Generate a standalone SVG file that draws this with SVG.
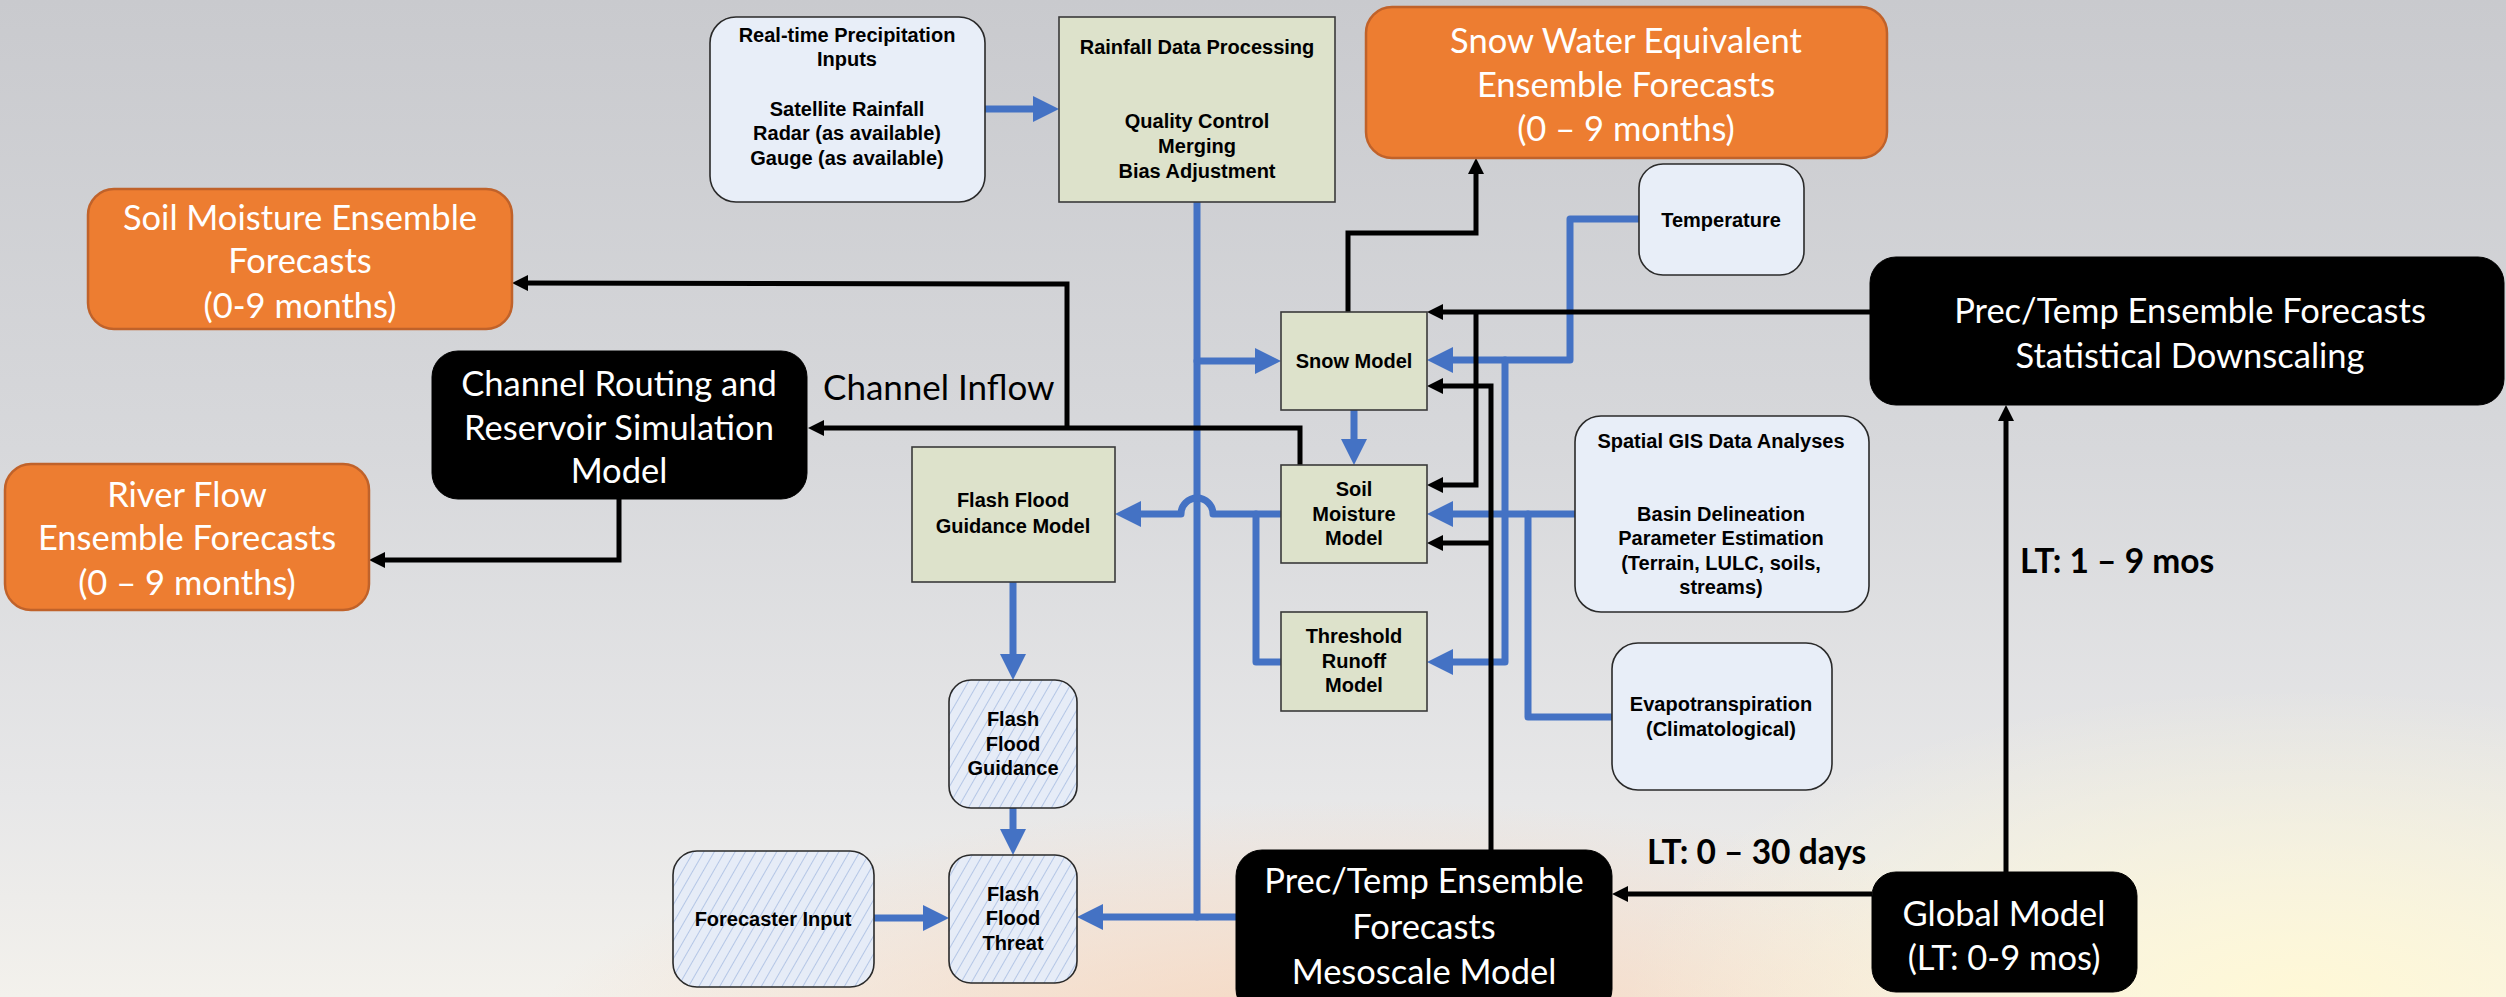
<svg xmlns="http://www.w3.org/2000/svg" width="2506" height="997" viewBox="0 0 2506 997">
<defs>
<linearGradient id="bg" x1="0" y1="0" x2="0" y2="1">
<stop offset="0" stop-color="#c9cace"/>
<stop offset="0.45" stop-color="#d7d8db"/>
<stop offset="0.8" stop-color="#e7e7e8"/>
<stop offset="1" stop-color="#f3f1ec"/>
</linearGradient>
<radialGradient id="glow1" cx="1350" cy="1060" r="520" gradientUnits="userSpaceOnUse" gradientTransform="translate(1350 1060) scale(1.6 0.5) translate(-1350 -1060)">
<stop offset="0" stop-color="#f6d2b8" stop-opacity="0.95"/>
<stop offset="1" stop-color="#f6d2b8" stop-opacity="0"/>
</radialGradient>
<radialGradient id="glow2" cx="2300" cy="1000" r="520" gradientUnits="userSpaceOnUse" gradientTransform="translate(2300 1000) scale(1.3 0.6) translate(-2300 -1000)">
<stop offset="0" stop-color="#fff8d6" stop-opacity="1"/>
<stop offset="1" stop-color="#fff8d6" stop-opacity="0"/>
</radialGradient>
<pattern id="hatch" patternUnits="userSpaceOnUse" width="9" height="9" patternTransform="rotate(30)">
<rect width="9" height="9" fill="#e6ecf7"/>
<line x1="0" y1="0" x2="0" y2="9" stroke="#a7bde2" stroke-width="1.6"/>
</pattern>
<marker id="ab" markerUnits="userSpaceOnUse" markerWidth="28" markerHeight="28" refX="14" refY="13" orient="auto">
<path d="M0,0 L26,13 L0,26 z" fill="#4472c4"/>
</marker>
<marker id="ak" markerUnits="userSpaceOnUse" markerWidth="18" markerHeight="18" refX="10" refY="8" orient="auto">
<path d="M0,0 L16,8 L0,16 z" fill="#000"/>
</marker>
<style>
.orange{fill:#ed7d31;stroke:#c0622a;stroke-width:2.5}
.black{fill:#000;stroke:#000}
.lb{fill:#e8eef8;stroke:#2a2a2a;stroke-width:1.6}
.ol{fill:#dde2cb;stroke:#3a3a3a;stroke-width:1.6}
.hb{fill:url(#hatch);stroke:#2a2a2a;stroke-width:1.6}
.big{font-family:Lato,"Open Sans",sans-serif;font-size:34.5px;fill:#fff;text-anchor:middle}
.sm{font-family:"Liberation Sans",Arial,sans-serif;font-size:20px;font-weight:bold;fill:#000;text-anchor:middle}
.lbl{font-family:Lato,"Open Sans",sans-serif;font-size:35px;fill:#000}
.lblb{font-family:Lato,"Open Sans",sans-serif;font-size:33.5px;font-weight:bold;fill:#000}
.cb{fill:none;stroke:#4472c4;stroke-width:7;stroke-linejoin:round;stroke-linecap:round}
.ck{fill:none;stroke:#000;stroke-width:5;stroke-linejoin:miter}
</style>
</defs>
<rect width="2506" height="997" fill="url(#bg)"/>
<rect width="2506" height="997" fill="url(#glow1)"/>
<rect width="2506" height="997" fill="url(#glow2)"/>

<g id="connectors">
<path class="cb" d="M985 109 L1047 109" marker-end="url(#ab)"/>
<path class="cb" d="M1197 202 L1197 917"/>
<path class="cb" d="M1236 917 L1089 917" marker-end="url(#ab)"/>
<path class="cb" d="M1197 361 L1269 361" marker-end="url(#ab)"/>
<path class="cb" d="M1639 219 L1570 219 L1570 360 L1439 360" marker-end="url(#ab)"/>
<path class="cb" d="M1505 360 L1505 662 L1439 662" marker-end="url(#ab)"/>
<path class="cb" d="M1575 514 L1439 514" marker-end="url(#ab)"/>
<path class="cb" d="M1612 717 L1528 717 L1528 514"/>
<path class="cb" d="M1281 514 L1213 514 A15 15 0 0 0 1181 514 L1127 514" marker-end="url(#ab)"/>
<path class="cb" d="M1256 514 L1256 662 L1281 662"/>
<path class="cb" d="M1354 410 L1354 453" marker-end="url(#ab)"/>
<path class="cb" d="M1013 582 L1013 668" marker-end="url(#ab)"/>
<path class="cb" d="M1013 808 L1013 843" marker-end="url(#ab)"/>
<path class="cb" d="M874 918 L937 918" marker-end="url(#ab)"/>
<path class="ck" d="M1870 312 L1433 312" marker-end="url(#ak)"/>
<path class="ck" d="M1476 312 L1476 485 L1433 485" marker-end="url(#ak)"/>
<path class="ck" d="M1491 850 L1491 386 L1433 386" marker-end="url(#ak)"/>
<path class="ck" d="M1491 543 L1433 543" marker-end="url(#ak)"/>
<path class="ck" d="M1348 312 L1348 233 L1476 233 L1476 164" marker-end="url(#ak)"/>
<path class="ck" d="M1300 465 L1300 428 L814 428" marker-end="url(#ak)"/>
<path class="ck" d="M1067 428 L1067 284 L518 283" marker-end="url(#ak)"/>
<path class="ck" d="M619 499 L619 560 L375 560" marker-end="url(#ak)"/>
<path class="ck" d="M1872 894 L1618 894" marker-end="url(#ak)"/>
<path class="ck" d="M2006 872 L2006 411" marker-end="url(#ak)"/>
<text class="lbl" x="823" y="400">Channel Inflow</text>
<text class="lblb" x="1647" y="864">LT: 0 – 30 days</text>
<text class="lblb" x="2020" y="573">LT: 1 – 9 mos</text>
</g>

<g id="realtime">
<rect class="lb" x="710" y="17" width="275" height="185" rx="26"/>
<text class="sm"><tspan x="847" y="42">Real-time Precipitation</tspan><tspan x="847" y="66">Inputs</tspan><tspan x="847" y="116">Satellite Rainfall</tspan><tspan x="847" y="140">Radar (as available)</tspan><tspan x="847" y="165">Gauge (as available)</tspan></text>
</g>
<g id="rainfall">
<rect class="ol" x="1059" y="17" width="276" height="185"/>
<text class="sm"><tspan x="1197" y="54">Rainfall Data Processing</tspan><tspan x="1197" y="128">Quality Control</tspan><tspan x="1197" y="153">Merging</tspan><tspan x="1197" y="178">Bias Adjustment</tspan></text>
</g>
<g id="swe">
<rect class="orange" x="1366" y="7" width="521" height="151" rx="26"/>
<text class="big"><tspan x="1626" y="53">Snow Water Equivalent</tspan><tspan x="1626" y="97">Ensemble Forecasts</tspan><tspan x="1626" y="141">(0 – 9 months)</tspan></text>
</g>
<g id="temperature">
<rect class="lb" x="1639" y="164" width="165" height="111" rx="24"/>
<text class="sm" x="1721" y="227">Temperature</text>
</g>
<g id="soilens">
<rect class="orange" x="88" y="189" width="424" height="140" rx="26"/>
<text class="big"><tspan x="300" y="230">Soil Moisture Ensemble</tspan><tspan x="300" y="273">Forecasts</tspan><tspan x="300" y="318">(0-9 months)</tspan></text>
</g>
<g id="statistical">
<rect class="black" x="1870" y="257" width="634" height="148" rx="26"/>
<text class="big"><tspan x="2190" y="323">Prec/Temp Ensemble Forecasts</tspan><tspan x="2190" y="368">Statistical Downscaling</tspan></text>
</g>
<g id="channel">
<rect class="black" x="432" y="351" width="375" height="148" rx="26"/>
<text class="big"><tspan x="619" y="396">Channel Routing and</tspan><tspan x="619" y="440">Reservoir Simulation</tspan><tspan x="619" y="483">Model</tspan></text>
</g>
<g id="riverflow">
<rect class="orange" x="5" y="464" width="364" height="146" rx="26"/>
<text class="big"><tspan x="187" y="507">River Flow</tspan><tspan x="187" y="550">Ensemble Forecasts</tspan><tspan x="187" y="595">(0 – 9 months)</tspan></text>
</g>
<g id="snowmodel">
<rect class="ol" x="1281" y="312" width="146" height="98"/>
<text class="sm" x="1354" y="368">Snow Model</text>
</g>
<g id="soilmodel">
<rect class="ol" x="1281" y="465" width="146" height="98"/>
<text class="sm"><tspan x="1354" y="496">Soil</tspan><tspan x="1354" y="521">Moisture</tspan><tspan x="1354" y="545">Model</tspan></text>
</g>
<g id="threshold">
<rect class="ol" x="1281" y="612" width="146" height="99"/>
<text class="sm"><tspan x="1354" y="643">Threshold</tspan><tspan x="1354" y="668">Runoff</tspan><tspan x="1354" y="692">Model</tspan></text>
</g>
<g id="spatial">
<rect class="lb" x="1575" y="416" width="294" height="196" rx="26"/>
<text class="sm"><tspan x="1721" y="448">Spatial GIS Data Analyses</tspan><tspan x="1721" y="521">Basin Delineation</tspan><tspan x="1721" y="545">Parameter Estimation</tspan><tspan x="1721" y="570">(Terrain, LULC, soils,</tspan><tspan x="1721" y="594">streams)</tspan></text>
</g>
<g id="evapo">
<rect class="lb" x="1612" y="643" width="220" height="147" rx="26"/>
<text class="sm"><tspan x="1721" y="711">Evapotranspiration</tspan><tspan x="1721" y="736">(Climatological)</tspan></text>
</g>
<g id="ffgmodel">
<rect class="ol" x="912" y="447" width="203" height="135"/>
<text class="sm"><tspan x="1013" y="507">Flash Flood</tspan><tspan x="1013" y="533">Guidance Model</tspan></text>
</g>
<g id="ffguidance">
<rect class="hb" x="949" y="680" width="128" height="128" rx="22"/>
<text class="sm"><tspan x="1013" y="726">Flash</tspan><tspan x="1013" y="751">Flood</tspan><tspan x="1013" y="775">Guidance</tspan></text>
</g>
<g id="ffthreat">
<rect class="hb" x="949" y="855" width="128" height="128" rx="22"/>
<text class="sm"><tspan x="1013" y="901">Flash</tspan><tspan x="1013" y="925">Flood</tspan><tspan x="1013" y="950">Threat</tspan></text>
</g>
<g id="forecaster">
<rect class="hb" x="673" y="851" width="201" height="136" rx="24"/>
<text class="sm" x="773" y="926">Forecaster Input</text>
</g>
<g id="mesoscale">
<rect class="black" x="1236" y="850" width="376" height="165" rx="26"/>
<text class="big"><tspan x="1424" y="893">Prec/Temp Ensemble</tspan><tspan x="1424" y="939">Forecasts</tspan><tspan x="1424" y="984">Mesoscale Model</tspan></text>
</g>
<g id="global">
<rect class="black" x="1872" y="872" width="265" height="120" rx="24"/>
<text class="big"><tspan x="2004" y="926">Global Model</tspan><tspan x="2004" y="970">(LT: 0-9 mos)</tspan></text>
</g>
</svg>
